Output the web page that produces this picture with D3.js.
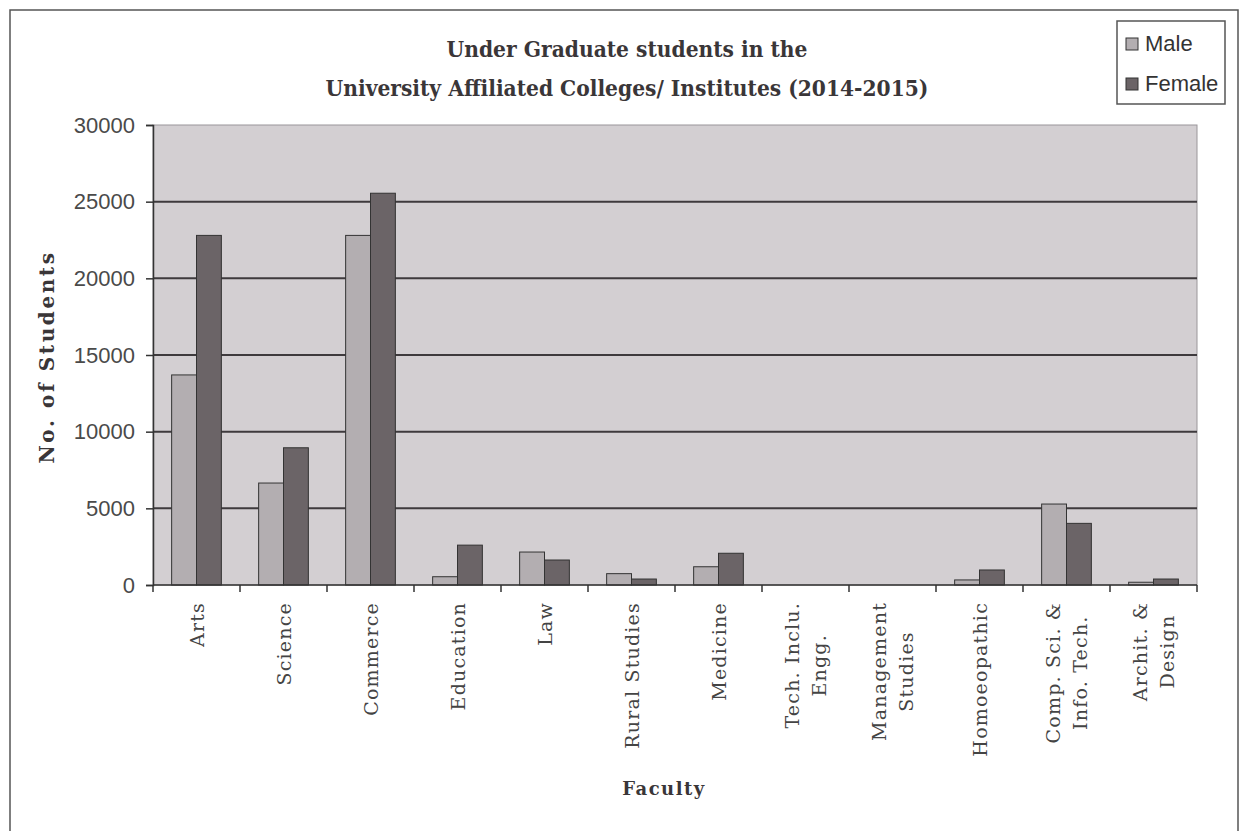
<!DOCTYPE html>
<html>
<head>
<meta charset="utf-8">
<script src="https://cdn.jsdelivr.net/npm/d3@7"></script>
<style>
  body { margin: 0; background: #fff; }
  svg { display: block; }
</style>
</head>
<body>
<svg id="chart" width="1242" height="831"></svg>
<script>
// faculties, one label line per array item
var faculties = [
    ["Arts"], ["Science"], ["Commerce"], ["Education"], ["Law"], ["Rural Studies"],
    ["Medicine"], ["Tech. Inclu.", "Engg."], ["Management", "Studies"], ["Homoeopathic"],
    ["Comp. Sci. &", "Info. Tech."], ["Archit. &", "Design"]
];
var male   = [13700, 6650, 22800, 540, 2150, 740, 1190, 0, 0, 330, 5280, 180];
var female = [22800, 8950, 25550, 2600, 1630, 390, 2070, 0, 0, 980, 4020, 390];
var series = ["Male", "Female"];
var yTicks = [0, 5000, 10000, 15000, 20000, 25000, 30000];

function makeChart() {
    var colors = { Male: "#b3aeb1", Female: "#6b6467" };

    var svg = d3.select("#chart");
    var pL = 153, pR = 1197, pT = 125, pB = 585;

    var names = faculties.map(function (d) { return d.join(" "); });
    var data = names.map(function (n, i) {
        return { name: n, lines: faculties[i], Male: male[i], Female: female[i] };
    });

    var scX = d3.scaleBand().domain(names).range([pL, pR]).padding(0);
    var scS = d3.scaleBand().domain(series).range([0, scX.bandwidth()]).paddingInner(0).paddingOuter(0.75);
    var scY = d3.scaleLinear().domain([0, 30000]).range([pB, pT]);

    // outer frame
    svg.append("rect")
        .attr("x", 10).attr("y", 10).attr("width", 1228).attr("height", 840)
        .attr("fill", "none").attr("stroke", "#555").attr("stroke-width", 1.5);

    // plot area
    svg.append("rect")
        .attr("x", pL).attr("y", pT).attr("width", pR - pL).attr("height", pB - pT)
        .attr("fill", "#d3cfd2").attr("stroke", "#9a969a").attr("stroke-width", 1);

    // gridlines
    svg.selectAll("line.grid")
        .data(yTicks.filter(function (t) { return t > 0 && t < 30000; }))
        .enter()
        .append("line")
        .attr("class", "grid")
        .attr("x1", pL).attr("x2", pR)
        .attr("y1", d => scY(d)).attr("y2", d => scY(d))
        .attr("stroke", "#3e3a3d").attr("stroke-width", 2);

    // bars
    var groups = svg.selectAll("g.fac")
        .data(data)
        .enter()
        .append("g")
        .attr("class", "fac")
        .attr("transform", d => "translate(" + scX(d.name) + ",0)");

    groups.selectAll("rect")
        .data(d => series.map(function (s) { return { key: s, value: d[s] }; }))
        .enter()
        .append("rect")
        .attr("x", d => scS(d.key))
        .attr("width", scS.bandwidth())
        .attr("y", d => scY(d.value))
        .attr("height", d => scY(0) - scY(d.value))
        .attr("fill", d => colors[d.key])
        .attr("stroke", d => d.value > 0 ? "#333" : "none")
        .attr("stroke-width", 1);

    // y axis
    var yAxis = svg.append("g")
        .attr("transform", "translate(" + pL + ",0)")
        .call(d3.axisLeft(scY).tickValues(yTicks).tickSize(7).tickPadding(11).tickFormat(d3.format("d")));
    yAxis.selectAll("path, line").attr("stroke", "#333").attr("stroke-width", 1.5);
    yAxis.selectAll("text")
        .attr("font-family", "Liberation Sans, Arial, sans-serif")
        .attr("font-size", 22).attr("fill", "#4a4a4a");

    // x axis with ticks on category boundaries
    var xAxis = svg.append("g")
        .attr("transform", "translate(0," + pB + ")");
    xAxis.append("line")
        .attr("x1", pL).attr("x2", pR)
        .attr("stroke", "#333").attr("stroke-width", 1.5);
    xAxis.selectAll("line.tick")
        .data(names.concat(["end"]))
        .enter()
        .append("line")
        .attr("class", "tick")
        .attr("x1", (d, i) => i < names.length ? scX(d) : pR)
        .attr("x2", (d, i) => i < names.length ? scX(d) : pR)
        .attr("y1", 0).attr("y2", 7)
        .attr("stroke", "#333").attr("stroke-width", 1.5);

    // rotated category labels
    var lab = svg.selectAll("g.lab")
        .data(data)
        .enter()
        .append("g")
        .attr("class", "lab")
        .attr("transform", d => "translate(" + (scX(d.name) + scX.bandwidth() / 2) + ",602) rotate(-90)");

    lab.each(function (d) {
        var g = d3.select(this);
        var n = d.lines.length;
        var txt = g.selectAll("text")
            .data(d.lines)
            .enter()
            .append("text")
            .attr("font-family", "DejaVu Serif, serif")
            .attr("font-size", 19)
            .attr("letter-spacing", 1.2)
            .attr("fill", "#444")
            .attr("text-anchor", "middle")
            .attr("y", (t, i) => (i - (n - 1) / 2) * 27 + 7)
            .text(t => t);
        var w = 0;
        txt.each(function () { w = Math.max(w, this.getComputedTextLength()); });
        txt.attr("x", -w / 2);
    });

    // titles
    var title = svg.append("text")
        .attr("text-anchor", "middle")
        .attr("font-family", "DejaVu Serif Condensed, DejaVu Serif, serif")
        .attr("font-weight", "bold")
        .attr("font-size", 22.5)
        .attr("fill", "#3a3638");
    title.append("tspan").attr("x", 627).attr("y", 57).text("Under Graduate students in the");
    title.append("tspan").attr("x", 627).attr("y", 96).text("University Affiliated Colleges/ Institutes (2014-2015)");

    svg.append("text")
        .attr("transform", "translate(54," + ((pT + pB) / 2 + 2) + ") rotate(-90)")
        .attr("text-anchor", "middle")
        .attr("font-family", "DejaVu Serif, serif")
        .attr("font-weight", "bold")
        .attr("font-size", 20)
        .attr("letter-spacing", 2.6)
        .attr("fill", "#3a3638")
        .text("No. of Students");

    svg.append("text")
        .attr("x", 664).attr("y", 795)
        .attr("text-anchor", "middle")
        .attr("font-family", "DejaVu Serif, serif")
        .attr("font-weight", "bold")
        .attr("font-size", 18)
        .attr("letter-spacing", 1.5)
        .attr("fill", "#3a3638")
        .text("Faculty");

    // legend
    var leg = svg.append("g");
    leg.append("rect")
        .attr("x", 1117).attr("y", 21).attr("width", 108).attr("height", 83)
        .attr("fill", "#fff").attr("stroke", "#555").attr("stroke-width", 1.5);
    var items = leg.selectAll("g.item")
        .data(series)
        .enter()
        .append("g")
        .attr("class", "item")
        .attr("transform", (d, i) => "translate(1126," + (38 + i * 40) + ")");
    items.append("rect")
        .attr("width", 12).attr("height", 12)
        .attr("fill", d => colors[d]).attr("stroke", "#333").attr("stroke-width", 1);
    items.append("text")
        .attr("x", 19).attr("y", 13)
        .attr("font-family", "Liberation Sans, Arial, sans-serif")
        .attr("font-size", 22)
        .attr("fill", "#333")
        .text(d => d);
}

makeChart();
</script>
</body>
</html>
